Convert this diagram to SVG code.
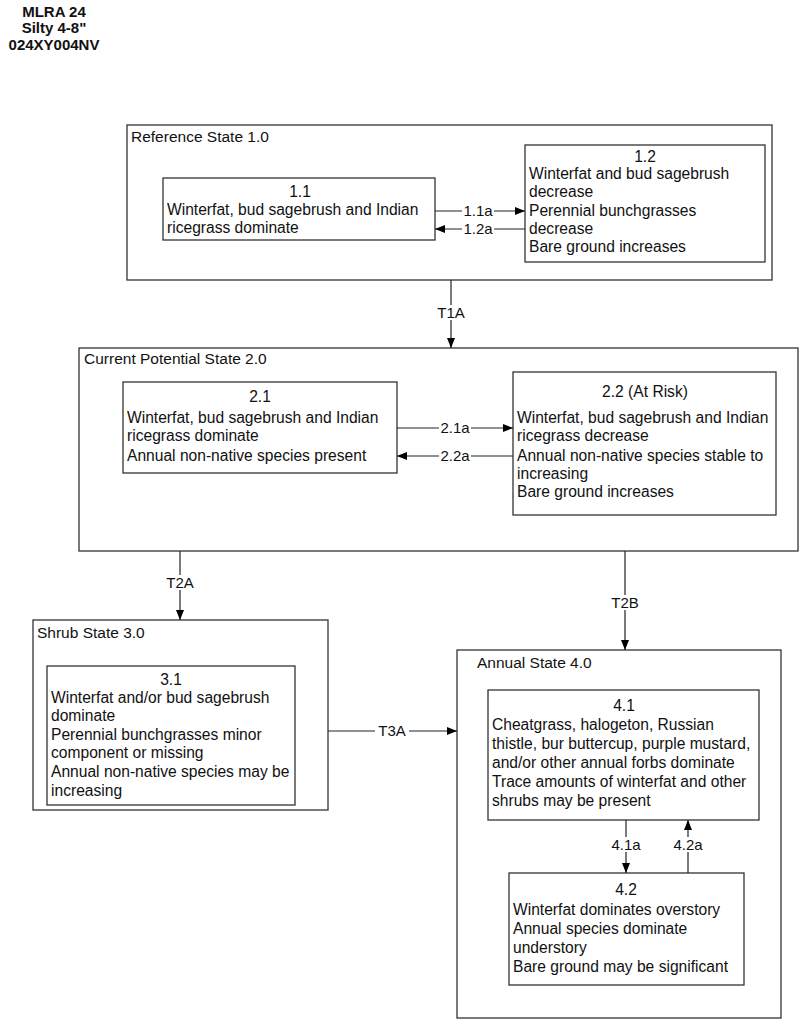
<svg xmlns="http://www.w3.org/2000/svg" width="800" height="1024" viewBox="0 0 800 1024">
<defs>
<marker id="ah" viewBox="0 0 10 10" refX="10" refY="5" markerWidth="10" markerHeight="10" markerUnits="userSpaceOnUse" orient="auto">
<path d="M0,1 L10,5 L0,9 z" fill="#000"/>
</marker>
<style>
text{font-family:"Liberation Sans",Arial,sans-serif;font-size:15.6px;fill:#111}
.hd{font-weight:bold;font-size:15px;text-anchor:middle}
.t{font-size:15.5px}
.c{text-anchor:middle}
.st{fill:#fff;stroke:#333;stroke-width:1.3}
.bx{fill:#fff;stroke:#333;stroke-width:1.3}
.ln{stroke:#222;stroke-width:1.2;fill:none}
.lb{font-size:15px;text-anchor:middle}
.lbb{fill:#fff;stroke:none}
</style>
</defs>
<rect width="800" height="1024" fill="#fff"/>
<g id="header">
<text class="hd" x="54" y="17">MLRA 24</text>
<text class="hd" x="54" y="33">Silty 4-8"</text>
<text class="hd" x="54" y="50">024XY004NV</text>
</g>

<g id="state1">
<rect class="st" x="127" y="125" width="645" height="155"/>
<text class="t" x="131" y="142">Reference State 1.0</text>
</g>
<g id="s11">
<rect class="bx" x="163" y="178" width="272" height="62"/>
<text class="c" x="300" y="197">1.1</text>
<text x="167" y="215">Winterfat, bud sagebrush and Indian</text>
<text x="167" y="233">ricegrass dominate</text>
</g>
<g id="s12">
<rect class="bx" x="525" y="145" width="240" height="117"/>
<text class="c" x="645" y="162">1.2</text>
<text x="529" y="179">Winterfat and bud sagebrush</text>
<text x="529" y="197">decrease</text>
<text x="529" y="216">Perennial bunchgrasses</text>
<text x="529" y="234">decrease</text>
<text x="529" y="252">Bare ground increases</text>
</g>

<g id="state2">
<rect class="st" x="79" y="348" width="719" height="203"/>
<text class="t" x="84" y="364">Current Potential State 2.0</text>
</g>
<g id="s21">
<rect class="bx" x="123" y="382" width="274" height="91"/>
<text class="c" x="260" y="402">2.1</text>
<text x="127" y="423">Winterfat, bud sagebrush and Indian</text>
<text x="127" y="441">ricegrass dominate</text>
<text x="127" y="461">Annual non-native species present</text>
</g>
<g id="s22">
<rect class="bx" x="513" y="372" width="263" height="143"/>
<text class="c" x="645" y="397">2.2  (At Risk)</text>
<text x="517" y="423">Winterfat, bud sagebrush and Indian</text>
<text x="517" y="441">ricegrass decrease</text>
<text x="517" y="461">Annual non-native species stable to</text>
<text x="517" y="479">increasing</text>
<text x="517" y="497">Bare ground increases</text>
</g>

<g id="state3">
<rect class="st" x="33" y="620" width="295" height="190"/>
<text class="t" x="37" y="638">Shrub State 3.0</text>
</g>
<g id="s31">
<rect class="bx" x="47" y="666" width="248" height="139"/>
<text class="c" x="171" y="685">3.1</text>
<text x="51" y="703">Winterfat and/or bud sagebrush</text>
<text x="51" y="721">dominate</text>
<text x="51" y="740">Perennial bunchgrasses minor</text>
<text x="51" y="758">component or missing</text>
<text x="51" y="777">Annual non-native species may be</text>
<text x="51" y="796">increasing</text>
</g>

<g id="state4">
<rect class="st" x="457" y="650" width="324" height="368"/>
<text class="t" x="477" y="668">Annual State 4.0</text>
</g>
<g id="s41">
<rect class="bx" x="488" y="690" width="271" height="130"/>
<text class="c" x="624" y="711">4.1</text>
<text x="492" y="730">Cheatgrass, halogeton, Russian</text>
<text x="492" y="749">thistle, bur buttercup, purple mustard,</text>
<text x="492" y="768">and/or other annual forbs dominate</text>
<text x="492" y="787">Trace amounts of winterfat and other</text>
<text x="492" y="806">shrubs may be present</text>
</g>
<g id="s42">
<rect class="bx" x="509" y="873" width="235" height="112"/>
<text class="c" x="626" y="895">4.2</text>
<text x="513" y="915">Winterfat dominates overstory</text>
<text x="513" y="934">Annual species dominate</text>
<text x="513" y="953">understory</text>
<text x="513" y="972">Bare ground may be significant</text>
</g>

<g id="connectors">
<line class="ln" x1="435" y1="211" x2="525" y2="211" marker-end="url(#ah)"/>
<rect class="lbb" x="462" y="204" width="32" height="14"/>
<text class="lb" x="478" y="216">1.1a</text>
<line class="ln" x1="525" y1="229" x2="435" y2="229" marker-end="url(#ah)"/>
<rect class="lbb" x="462" y="222" width="32" height="14"/>
<text class="lb" x="478" y="234">1.2a</text>

<line class="ln" x1="451" y1="280" x2="451" y2="348" marker-end="url(#ah)"/>
<rect class="lbb" x="434" y="305" width="34" height="15"/>
<text class="lb" x="451" y="318">T1A</text>

<line class="ln" x1="397" y1="428" x2="513" y2="428" marker-end="url(#ah)"/>
<rect class="lbb" x="439" y="421" width="32" height="14"/>
<text class="lb" x="455" y="433">2.1a</text>
<line class="ln" x1="513" y1="456" x2="397" y2="456" marker-end="url(#ah)"/>
<rect class="lbb" x="439" y="449" width="32" height="14"/>
<text class="lb" x="455" y="461">2.2a</text>

<line class="ln" x1="180" y1="551" x2="180" y2="620" marker-end="url(#ah)"/>
<rect class="lbb" x="163" y="575" width="34" height="15"/>
<text class="lb" x="180" y="588">T2A</text>

<line class="ln" x1="625" y1="551" x2="625" y2="650" marker-end="url(#ah)"/>
<rect class="lbb" x="608" y="595" width="34" height="15"/>
<text class="lb" x="625" y="608">T2B</text>

<line class="ln" x1="328" y1="731" x2="457" y2="731" marker-end="url(#ah)"/>
<rect class="lbb" x="375" y="724" width="34" height="14"/>
<text class="lb" x="392" y="736">T3A</text>

<line class="ln" x1="626" y1="820" x2="626" y2="873" marker-end="url(#ah)"/>
<rect class="lbb" x="609" y="837" width="34" height="15"/>
<text class="lb" x="626" y="850">4.1a</text>
<line class="ln" x1="688" y1="873" x2="688" y2="820" marker-end="url(#ah)"/>
<rect class="lbb" x="671" y="837" width="34" height="15"/>
<text class="lb" x="688" y="850">4.2a</text>
</g>
</svg>
